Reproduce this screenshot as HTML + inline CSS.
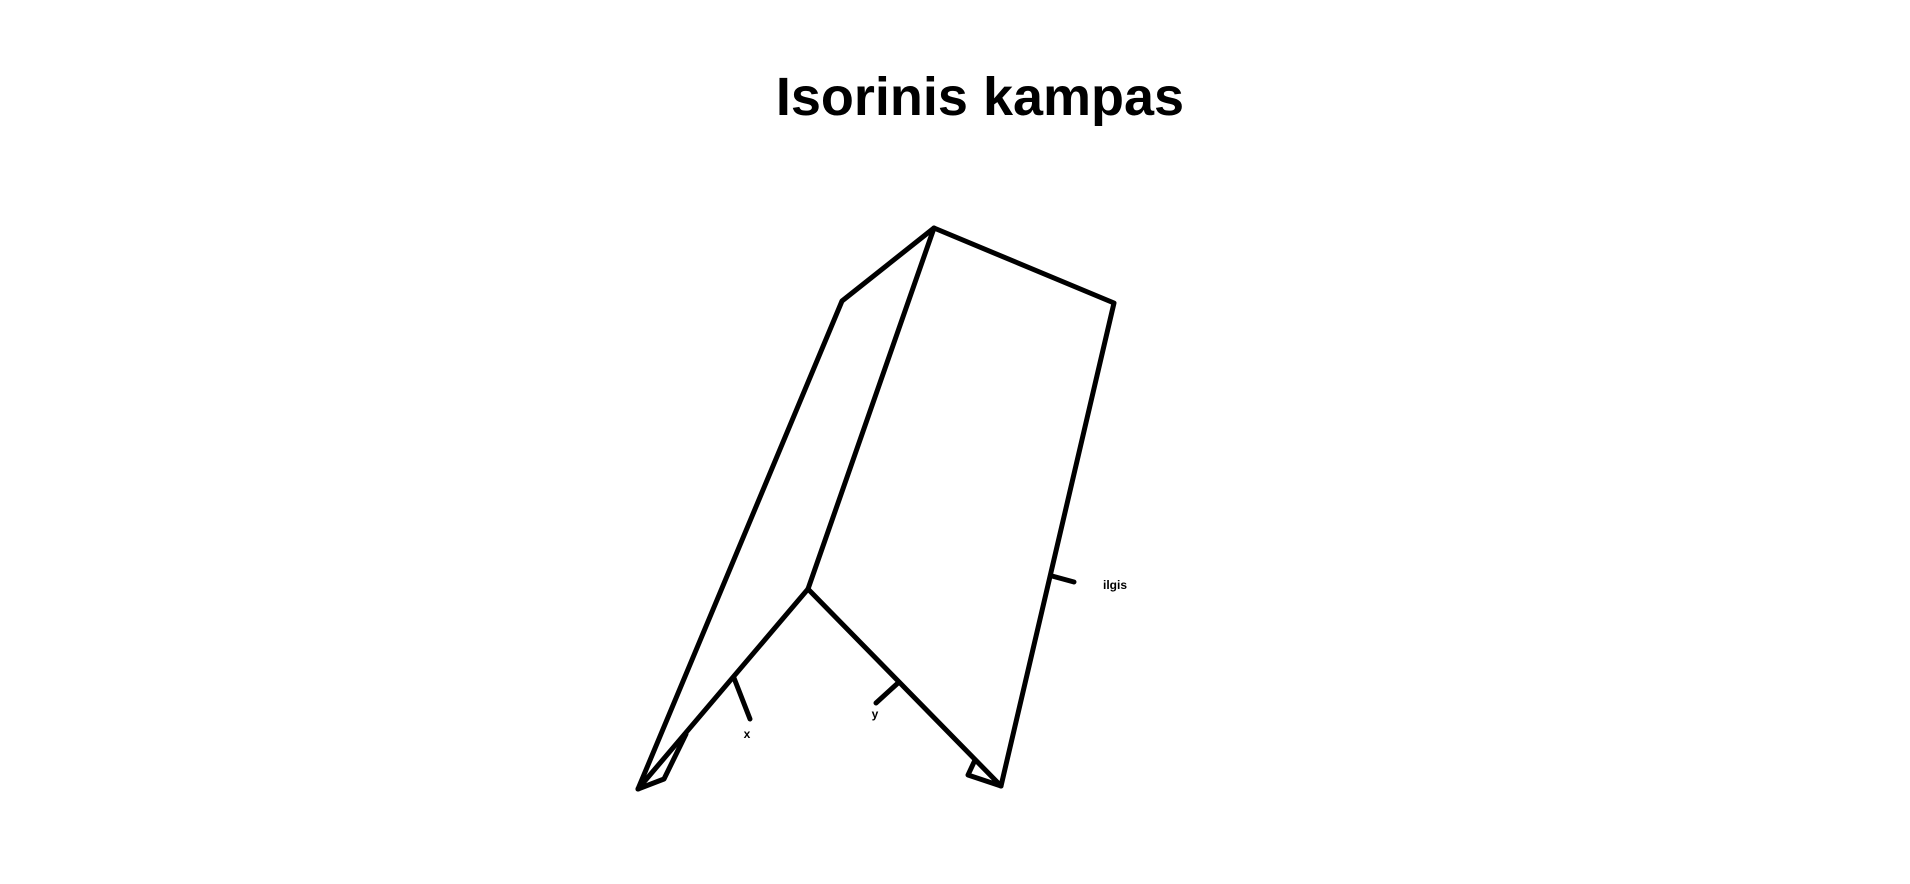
<!DOCTYPE html>
<html><head><meta charset="utf-8"><style>
html,body{margin:0;padding:0;background:#fff;width:1910px;height:884px;overflow:hidden}
svg{display:block}
</style></head><body>
<svg width="1910" height="884" viewBox="0 0 1910 884">
<text x="980" y="115" text-anchor="middle" font-family="'Liberation Sans',sans-serif" font-weight="bold" font-size="54" fill="#000">Isorinis kampas</text>
<g stroke="#000" stroke-width="5" fill="none" stroke-linecap="round" stroke-linejoin="round">
<polyline points="638,789 842,301 934,228 1114,303 1001,786"/>
<line x1="934" y1="228" x2="808" y2="589"/>
<line x1="808" y1="589" x2="638" y2="789"/>
<line x1="808" y1="589" x2="1001" y2="786"/>
<polyline points="638,789 664,779 686,734"/>
<polyline points="1001,786 968,775 975,760"/>
<line x1="734" y1="678" x2="750" y2="719"/>
<line x1="898" y1="683" x2="876" y2="703"/>
<line x1="1052" y1="576" x2="1074" y2="582"/>
</g>
<g font-family="'Liberation Sans',sans-serif" font-weight="bold" font-size="12" fill="#000">
<text x="747" y="738" text-anchor="middle">x</text>
<text x="875" y="718" text-anchor="middle">y</text>
<text x="1103" y="589">ilgis</text>
</g>
</svg>
</body></html>
